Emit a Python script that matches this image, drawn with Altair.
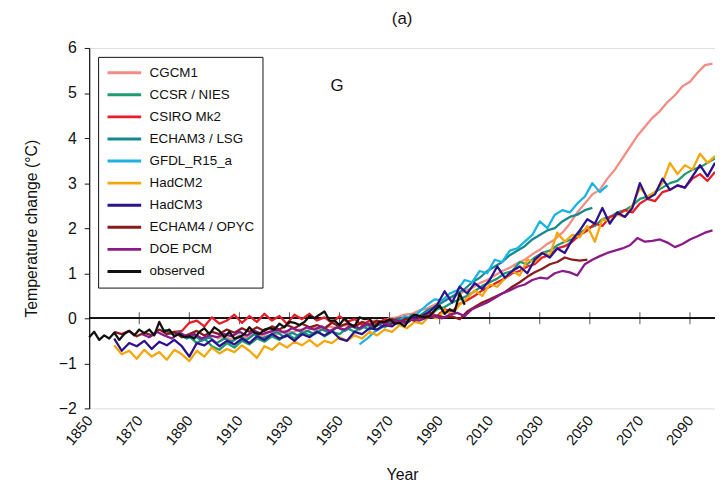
import altair as alt
import pandas as pd

FONT = "Liberation Sans"

# ---- series: (name, colour, first year, step, values) ----
names = ["CGCM1", "CCSR / NIES", "CSIRO Mk2", "ECHAM3 / LSG", "GFDL_R15_a",
         "HadCM2", "HadCM3", "ECHAM4 / OPYC", "DOE PCM", "observed"]
colors = ["#f28c85", "#1c9c72", "#e61e28", "#15898b", "#1cb2e4",
          "#f4a70c", "#2c128c", "#8a1c1e", "#8a1a88", "#111111"]

cgcm1_start = 1901
cgcm1 = [-0.45, -0.40, -0.48, -0.38, -0.42, -0.35, -0.40, -0.30, -0.35, -0.28,
         -0.32, -0.25, -0.28, -0.20, -0.25, -0.18, -0.22, -0.15, -0.18, -0.10,
         -0.12, -0.05, -0.08, 0.00, 0.02, 0.08, 0.10, 0.18, 0.22, 0.30,
         0.38, 0.45, 0.52, 0.60, 0.68, 0.78, 0.85, 0.95, 1.05, 1.12,
         1.22, 1.30, 1.42, 1.52, 1.65, 1.75, 1.90, 2.10, 2.35, 2.55,
         2.75, 2.85, 3.10, 3.30, 3.55, 3.80, 4.05, 4.25, 4.45, 4.60,
         4.80, 4.95, 5.15, 5.25, 5.45, 5.62, 5.65]

ccsr_start = 1890
ccsr = [-0.40, -0.55, -0.45, -0.62, -0.70, -0.55, -0.65, -0.50, -0.58, -0.45,
        -0.52, -0.40, -0.48, -0.35, -0.45, -0.30, -0.38, -0.28, -0.40, -0.30,
        -0.35, -0.22, -0.30, -0.18, -0.25, -0.12, -0.20, -0.08, -0.12, 0.00,
        -0.05, 0.10, 0.05, 0.20, 0.25, 0.35, 0.42, 0.50, 0.60, 0.72,
        0.80, 0.88, 1.00, 1.05, 1.25, 1.20, 1.35, 1.45, 1.50, 1.62,
        1.70, 1.75, 1.90, 2.00, 2.05, 2.20, 2.25, 2.35, 2.40, 2.50,
        2.65, 2.70, 2.80, 2.90, 3.00, 3.05, 3.20, 3.30, 3.35, 3.45,
        3.55]

csiro_start = 1881
csiro = [-0.35, -0.30, -0.28, -0.10, -0.05, -0.18, 0.02, -0.12, -0.05, 0.08,
         -0.10, 0.05, -0.08, 0.10, -0.05, 0.05, -0.12, 0.08, -0.02, 0.10,
         -0.05, 0.02, -0.10, 0.05, -0.08, -0.02, -0.15, -0.05, -0.12, -0.02,
         -0.10, 0.00, -0.08, 0.05, 0.00, 0.12, 0.05, 0.20, 0.15, 0.32,
         0.40, 0.50, 0.62, 0.70, 0.80, 0.88, 1.00, 1.05, 1.15, 1.20,
         1.35, 1.40, 1.55, 1.60, 1.70, 1.85, 1.95, 2.10, 2.05, 2.25,
         2.30, 2.40, 2.35, 2.55, 2.65, 2.60, 2.80, 2.85, 2.95, 2.90,
         3.10, 3.20, 3.05, 3.25]

echam3_start = 1880
echam3 = [-0.25, -0.35, -0.30, -0.45, -0.38, -0.50, -0.42, -0.55, -0.45, -0.52,
          -0.40, -0.48, -0.35, -0.45, -0.38, -0.30, -0.42, -0.32, -0.40, -0.28,
          -0.35, -0.25, -0.32, -0.20, -0.28, -0.18, -0.25, -0.15, -0.20, -0.10,
          -0.12, 0.00, -0.05, 0.08, 0.05, 0.18, 0.25, 0.35, 0.45, 0.55,
          0.65, 0.80, 0.90, 1.05, 1.15, 1.25, 1.40, 1.50, 1.60, 1.75,
          1.85, 1.95, 2.00, 2.15, 2.25, 2.30, 2.40, 2.45]

gfdl_start = 1958
gfdl = [-0.58, -0.45, -0.30, -0.20, -0.05, -0.10, 0.05, 0.00, 0.15, 0.30,
        0.42, 0.40, 0.55, 0.62, 0.85, 0.80, 1.05, 1.00, 1.30, 1.25,
        1.50, 1.55, 1.70, 1.85, 2.15, 2.00, 2.30, 2.40, 2.35, 2.55,
        2.70, 3.00, 2.80, 2.95]

hadcm2_start = 1860
hadcm2 = [-0.60, -0.80, -0.72, -0.90, -0.70, -0.85, -0.75, -0.92, -0.70, -0.80,
          -0.95, -0.72, -0.85, -0.65, -0.78, -0.68, -0.75, -0.60, -0.72, -0.88,
          -0.62, -0.70, -0.55, -0.65, -0.52, -0.60, -0.48, -0.62, -0.50, -0.55,
          -0.42, -0.50, -0.38, -0.45, -0.30, -0.38, -0.25, -0.30, -0.15, -0.22,
          -0.08, -0.12, 0.05, 0.00, 0.18, 0.08, 0.30, 0.45, 0.62, 0.50,
          0.75, 0.70, 0.88, 1.05, 0.95, 1.30, 1.25, 1.45, 1.40, 1.90,
          1.70, 1.85, 1.80, 2.05, 1.70, 2.20, 2.15, 2.30, 2.25, 2.50,
          2.90, 2.70, 2.80, 3.00, 3.45, 3.20, 3.40, 3.30, 3.65, 3.45,
          3.60]

hadcm3_start = 1860
hadcm3 = [-0.45, -0.72, -0.55, -0.62, -0.50, -0.68, -0.52, -0.60, -0.48, -0.62,
          -0.85, -0.55, -0.60, -0.48, -0.62, -0.50, -0.58, -0.45, -0.55, -0.40,
          -0.48, -0.35, -0.45, -0.38, -0.50, -0.35, -0.42, -0.30, -0.38, -0.28,
          -0.45, -0.50, -0.30, -0.35, -0.22, -0.25, -0.15, -0.18, -0.05, -0.10,
          0.02, 0.05, 0.15, 0.30, 0.60, 0.35, 0.70, 0.55, 0.78, 0.65,
          0.85, 1.15, 0.90, 1.05, 1.15, 1.00, 1.30, 1.45, 1.35, 1.55,
          1.45, 1.75, 1.95, 2.20, 2.10, 2.45, 2.10, 2.35, 2.25, 2.45,
          3.00, 2.65, 2.75, 3.10, 2.85, 2.95, 2.90, 3.15, 3.40, 3.15,
          3.45]

echam4_start = 1860
echam4 = [-0.30, -0.35, -0.28, -0.40, -0.32, -0.38, -0.25, -0.35, -0.30, -0.42,
          -0.35, -0.28, -0.38, -0.30, -0.35, -0.25, -0.32, -0.22, -0.30, -0.20,
          -0.28, -0.18, -0.25, -0.15, -0.22, -0.12, -0.20, -0.15, -0.22, -0.10,
          -0.18, -0.12, -0.20, -0.08, -0.15, -0.05, -0.12, -0.02, -0.08, 0.00,
          -0.05, 0.05, 0.02, 0.06, 0.02, 0.04, -0.02, 0.15, 0.25, 0.35,
          0.42, 0.50, 0.58, 0.70, 0.80, 0.92, 1.02, 1.10, 1.20, 1.25,
          1.35, 1.30, 1.28, 1.30]

doe_start = 1871
doe = [-0.35, -0.42, -0.30, -0.38, -0.45, -0.32, -0.40, -0.35, -0.45, -0.38,
       -0.42, -0.35, -0.40, -0.30, -0.38, -0.28, -0.35, -0.30, -0.25, -0.32,
       -0.22, -0.28, -0.20, -0.25, -0.18, -0.28, -0.20, -0.25, -0.15, -0.22,
       -0.12, -0.18, -0.10, -0.15, -0.05, -0.10, -0.02, -0.05, 0.02, 0.05,
       0.00, 0.08, 0.12, 0.05, 0.20, 0.28, 0.35, 0.45, 0.55, 0.62,
       0.70, 0.75, 0.85, 0.90, 0.88, 1.00, 1.05, 1.02, 0.95, 1.20,
       1.30, 1.38, 1.45, 1.50, 1.55, 1.62, 1.78, 1.70, 1.72, 1.75,
       1.68, 1.58, 1.65, 1.75, 1.82, 1.90, 1.95]

obs_start = 1850
observed = [-0.42, -0.30, -0.48,
            -0.38, -0.45, -0.32, -0.48, -0.35, -0.28, -0.38, -0.25, -0.33, -0.25,
            -0.38, -0.08, -0.30, -0.25, -0.40, -0.35, -0.42, -0.40, -0.45, -0.30,
            -0.22, -0.35, -0.20, -0.28, -0.42, -0.30, -0.45, -0.42, -0.35, -0.20,
            -0.32, -0.35, -0.25, -0.22, -0.25, -0.12, -0.20, -0.08, -0.10, -0.15,
            -0.08, 0.05, 0.00, 0.08, 0.15, -0.05, -0.05, -0.15, 0.00, -0.12,
            -0.18, 0.02, -0.02, 0.00, -0.20, -0.08, -0.08, -0.02, -0.12, -0.10,
            -0.18, 0.00, 0.08, 0.05, 0.02, 0.05, 0.18, 0.28, 0.10, 0.20,
            0.15, 0.55, 0.30]

series = [
    (cgcm1_start, 3, cgcm1), (ccsr_start, 3, ccsr), (csiro_start, 3, csiro),
    (echam3_start, 3, echam3), (gfdl_start, 3, gfdl), (hadcm2_start, 3, hadcm2),
    (hadcm3_start, 3, hadcm3), (echam4_start, 3, echam4), (doe_start, 3, doe),
    (obs_start, 2, observed),
]

rows = []
for name, (start, step, vals) in zip(names, series):
    for i, v in enumerate(vals):
        rows.append({"series": name, "year": start + step * i, "value": v})
df = pd.DataFrame(rows)

x_ticks = list(range(1850, 2091, 20))
zero_ticks = list(range(1870, 2091, 20))
y_ticks = list(range(-2, 7))

xscale = alt.Scale(domain=[1850, 2100], nice=False, zero=False)
yscale = alt.Scale(domain=[-2, 6], nice=False)

X = alt.X("year:Q", scale=xscale,
          axis=alt.Axis(values=x_ticks, format="d", labelAngle=310, ticks=False,
                        domain=False, grid=False, labelFontSize=15, labelFont=FONT,
                        labelColor="#111", labelPadding=9, title="Year",
                        titleFont=FONT, titleFontSize=16, titleFontWeight="normal",
                        titleColor="#111", titlePadding=19))
Y = alt.Y("value:Q", scale=yscale,
          axis=alt.Axis(values=y_ticks, grid=False, tickSize=5, tickColor="#111",
                        domainColor="#111", domainWidth=1.2, labelFontSize=16,
                        labelFont=FONT, labelColor="#111", labelPadding=8,
                        title="Temperature change (°C)", titleFont=FONT,
                        titleFontSize=16, titleFontWeight="normal",
                        titleColor="#111", titlePadding=19))

legend = alt.Legend(orient="none", legendX=9, legendY=9, title=None,
                    symbolType="stroke", symbolSize=34 * 34, symbolStrokeWidth=3,
                    clipHeight=16, rowPadding=6.3, padding=8,
                    strokeColor="#111", fillColor="white",
                    labelFont=FONT, labelFontSize=13.5, labelColor="#111",
                    labelOffset=7, labelLimit=300)
color = alt.Color("series:N", scale=alt.Scale(domain=names, range=colors),
                  legend=legend)

base = alt.Chart(df)

zero_df = pd.DataFrame({"year": zero_ticks, "value": [0] * len(zero_ticks)})
zero_line = alt.Chart(zero_df).mark_rule(color="#111", strokeWidth=1).encode(
    y=alt.datum(0, scale=yscale), x=alt.value(0), x2=alt.value(632))
zero_tick_marks = alt.Chart(zero_df).mark_tick(
    orient="vertical", size=12, thickness=1, color="#111").encode(x=X, y=Y)

layers = [zero_line, zero_tick_marks]
for name in names:
    layers.append(
        base.transform_filter(alt.datum.series == name)
        .mark_line(strokeWidth=2.3, strokeJoin="round")
        .encode(x=X, y=Y, color=color)
    )

g_label = alt.Chart(pd.DataFrame({"year": [1949], "value": [5.15], "t": ["G"]})).mark_text(
    font=FONT, fontSize=17, color="#111").encode(x=X, y=Y, text="t:N")
layers.append(g_label)

chart = alt.layer(*layers).properties(
    width=632, height=364,
    title=alt.TitleParams("(a)", font=FONT, fontSize=17, fontWeight="normal",
                          color="#111", anchor="middle", offset=12),
    autosize=alt.AutoSizeParams(type="none"),
    padding={"left": 82, "top": 38, "right": 0, "bottom": 75},
).configure_view(stroke="#444", strokeWidth=1.5).configure(background="white")

chart.save("out.html", embed_options={"renderer": "svg", "actions": False})
